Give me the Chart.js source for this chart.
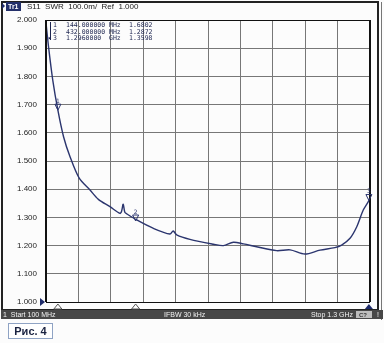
<!DOCTYPE html>
<html>
<head>
<meta charset="utf-8">
<script src="https://cdn.jsdelivr.net/npm/chart.js@4"></script>
<style>
  html, body { margin: 0; padding: 0; background: #fcfcfc; }
  canvas { display: block; }
</style>
</head>
<body>
<canvas id="myChart" width="384" height="343"></canvas>
<script>
// S11 SWR trace, frequency in MHz
const freqs = [100, 110, 125, 144, 165, 189, 223, 263, 294, 337, 374, 380, 386, 392, 400, 436, 498, 559, 571, 584, 633, 720, 757, 794, 831, 880, 954, 1004, 1059, 1115, 1170, 1195, 1226, 1251, 1275, 1296, 1300];
const swr =   [1.99, 1.90, 1.787, 1.680, 1.586, 1.515, 1.439, 1.397, 1.364, 1.338, 1.314, 1.322, 1.347, 1.318, 1.312, 1.291, 1.261, 1.241, 1.252, 1.238, 1.222, 1.205, 1.200, 1.212, 1.206, 1.196, 1.182, 1.185, 1.170, 1.184, 1.193, 1.202, 1.226, 1.267, 1.326, 1.360, 1.375];

// markers
const markerNums = ['1', '2', '3'];
const markerFreqs = [144, 432, 1296];
const markerVals = [1.6802, 1.2872, 1.3598];
const markerFreqText = ['144.000000', '432.000000', '1.2960000'];
const markerUnits = ['MHz', 'MHz', 'GHz'];

const yTicks = [1.0, 1.1, 1.2, 1.3, 1.4, 1.5, 1.6, 1.7, 1.8, 1.9, 2.0];

const traceColor = '#2b356e';

const screenDecor = {
  id: 'screenDecor',
  afterDraw(chart) {
    const ctx = chart.ctx;
    const a = chart.chartArea;
    const xs = chart.scales.x, ys = chart.scales.y;
    ctx.save();

    // plot frame
    ctx.strokeStyle = '#111';
    ctx.lineWidth = 2;
    ctx.beginPath();
    ctx.moveTo(a.left, a.top); ctx.lineTo(a.left, a.bottom);
    ctx.moveTo(a.right, a.top); ctx.lineTo(a.right, a.bottom);
    ctx.stroke();
    ctx.lineWidth = 1;
    ctx.beginPath();
    ctx.moveTo(a.left, a.bottom + 0.5); ctx.lineTo(a.right, a.bottom + 0.5);
    ctx.moveTo(a.left, a.top + 0.5); ctx.lineTo(a.right, a.top + 0.5);
    ctx.stroke();

    // outer screen frame
    ctx.lineWidth = 2;
    ctx.strokeStyle = '#222';
    ctx.strokeRect(2, 2, 376, 308);
    ctx.lineWidth = 1;
    ctx.strokeStyle = '#777';
    ctx.beginPath(); ctx.moveTo(381.5, 2); ctx.lineTo(381.5, 320); ctx.stroke();

    // reference level arrow
    const yRef = ys.getPixelForValue(1.0);
    ctx.fillStyle = '#1d2a6a';
    ctx.beginPath();
    ctx.moveTo(a.left - 6, yRef - 4); ctx.lineTo(a.left - 1, yRef); ctx.lineTo(a.left - 6, yRef + 4);
    ctx.closePath(); ctx.fill();

    // header
    ctx.fillStyle = '#1d2a6a';
    ctx.beginPath(); ctx.moveTo(2, 3); ctx.lineTo(5, 6); ctx.lineTo(2, 9); ctx.closePath(); ctx.fill();
    ctx.fillStyle = '#23306a';
    ctx.fillRect(6, 2, 15, 9);
    ctx.font = 'bold 7px "Liberation Sans"';
    ctx.fillStyle = '#fff';
    ctx.textBaseline = 'middle';
    ctx.fillText('Tr1', 8, 7);
    ctx.font = '8px "Liberation Sans"';
    ctx.fillStyle = '#222';
    ctx.fillText('S11  SWR  100.0m/  Ref  1.000', 27, 7);

    // marker table
    ctx.font = '6.5px "DejaVu Sans Mono"';
    ctx.fillStyle = '#1d2550';
    markerNums.forEach((n, i) => {
      const y = 25.5 + i * 6.5;
      if (i === 2) ctx.fillText('\u25B8', 48, y);
      ctx.fillText(n, 53, y);
      ctx.fillText(markerFreqText[i], 66, y);
      ctx.fillText(markerUnits[i], 109, y);
      ctx.fillText(markerVals[i].toFixed(4), 129, y);
    });
    ctx.strokeStyle = '#1d2550';
    ctx.beginPath(); ctx.moveTo(50.5, 22); ctx.lineTo(50.5, 40); ctx.stroke();

    // markers on trace
    ctx.lineWidth = 1;
    markerFreqs.forEach((f, i) => {
      const px = xs.getPixelForValue(f);
      const py = ys.getPixelForValue(markerVals[i]);
      ctx.strokeStyle = traceColor;
      ctx.beginPath();
      ctx.moveTo(px, py); ctx.lineTo(px - 3, py - 6); ctx.lineTo(px + 3, py - 6); ctx.closePath();
      ctx.stroke();
      ctx.fillStyle = traceColor;
      ctx.font = '6px "DejaVu Sans"';
      ctx.textAlign = 'center';
      ctx.fillText(markerNums[i], px, py - 9);
      ctx.textAlign = 'left';
      // stimulus marks under the axis
      const by = a.bottom + 2;
      ctx.beginPath();
      ctx.moveTo(px, by); ctx.lineTo(px - 4, by + 5); ctx.lineTo(px + 4, by + 5); ctx.closePath();
      if (i === 2) { ctx.fillStyle = '#1d2a6a'; ctx.fill(); }
      else { ctx.strokeStyle = '#555'; ctx.stroke(); }
    });

    // status bar
    ctx.fillStyle = '#474747';
    ctx.fillRect(1, 310, 382, 9);
    ctx.font = '7px "Liberation Sans"';
    ctx.fillStyle = '#f2f2f2';
    ctx.textBaseline = 'middle';
    ctx.fillText('1  Start 100 MHz', 3, 315);
    ctx.fillText('IFBW 30 kHz', 164, 315);
    ctx.fillText('Stop 1.3 GHz', 311, 315);
    ctx.fillStyle = '#bdbdbd';
    ctx.fillRect(356, 311, 16, 7);
    ctx.fillStyle = '#333';
    ctx.font = 'bold 6px "Liberation Sans"';
    ctx.fillText('C?', 359, 315);
    ctx.fillStyle = '#f2f2f2';
    ctx.font = '7px "Liberation Sans"';
    ctx.fillText('!', 377, 315);

    // figure caption
    ctx.fillStyle = '#ffffff';
    ctx.fillRect(8, 323, 44, 15);
    ctx.strokeStyle = '#8fa3c4';
    ctx.lineWidth = 1;
    ctx.strokeRect(8.5, 323.5, 44, 15);
    ctx.font = 'bold 11px "Liberation Sans"';
    ctx.fillStyle = '#1a2240';
    ctx.textAlign = 'center';
    ctx.fillText('Рис. 4', 30.5, 331.5);

    ctx.restore();
  }
};

const ctx = document.getElementById('myChart');

new Chart(ctx, {
  type: 'line',
  data: {
    datasets: [
      {
        label: 'S11 SWR',
        data: freqs.map((f, i) => ({ x: f, y: swr[i] })),
        borderColor: traceColor,
        borderWidth: 1.4,
        pointRadius: 0,
        tension: 0.3,
        fill: false
      }
    ]
  },
  options: {
    responsive: false,
    animation: false,
    layout: { padding: { top: 20, right: 14, bottom: 41, left: 0 } },
    plugins: { legend: { display: false }, tooltip: { enabled: false } },
    scales: {
      x: {
        type: 'linear',
        min: 100,
        max: 1300,
        ticks: { display: false, stepSize: 120 },
        grid: { color: '#777777', lineWidth: 1, drawTicks: false },
        border: { display: false }
      },
      y: {
        min: 1,
        max: 2,
        afterBuildTicks: s => { s.ticks = yTicks.map(v => ({ value: v })); },
        afterFit: s => { s.width = 46; },
        ticks: {
          callback: v => v.toFixed(3),
          color: '#1e1e1e',
          font: { family: 'Liberation Sans', size: 8 },
          padding: 9
        },
        grid: { color: '#777777', lineWidth: 1, drawTicks: false },
        border: { display: false }
      }
    }
  },
  plugins: [screenDecor]
});
</script>
</body>
</html>
